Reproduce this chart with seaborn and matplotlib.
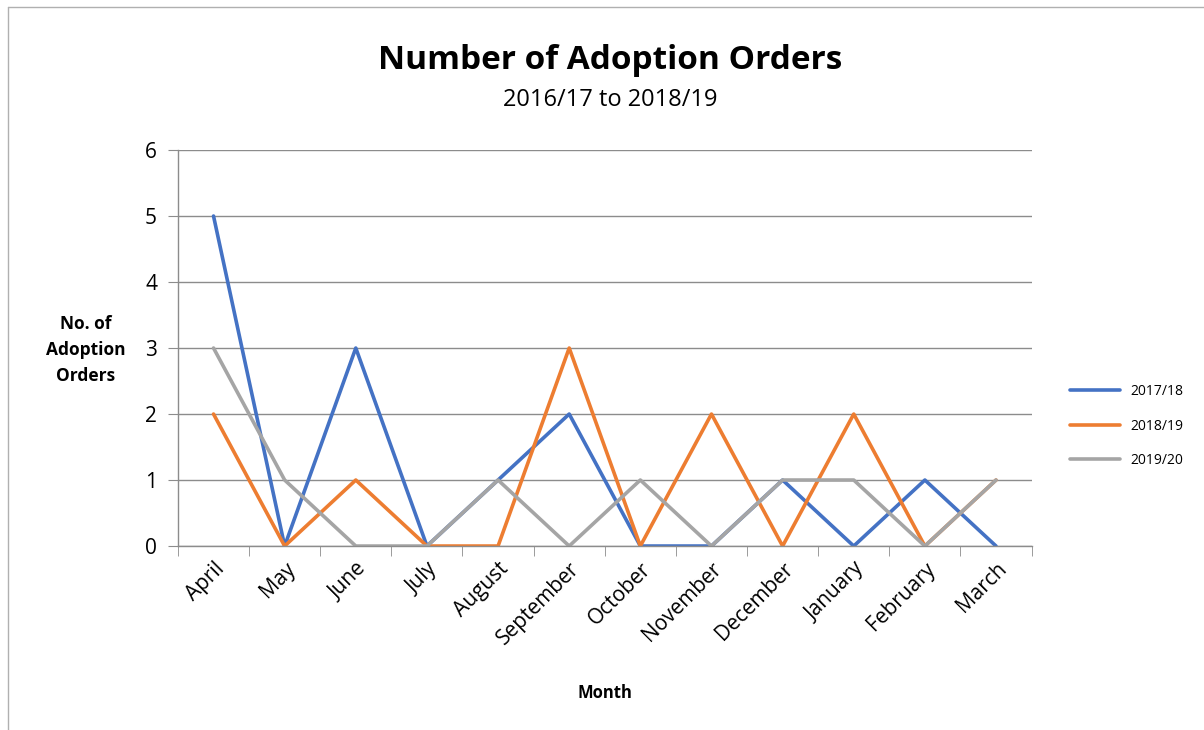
import numpy as np
import pandas as pd
import matplotlib.pyplot as plt
import seaborn as sns

months = ['April', 'May', 'June', 'July', 'August', 'September', 'October',
          'November', 'December', 'January', 'February', 'March']
orders_2017_18 = [5, 0, 3, 0, 1, 2, 0, 0, 1, 0, 1, 0]
orders_2018_19 = [2, 0, 1, 0, 0, 3, 0, 2, 0, 2, 0, 1]
orders_2019_20 = [3, 1, 0, 0, 1, 0, 1, 0, 1, 1, 0, 1]
seasons = ['2017/18', '2018/19', '2019/20']
colors = ['#4472C4', '#ED7D31', '#A5A5A5']

df = pd.DataFrame({
    'month_idx': list(range(len(months))) * 3,
    'orders': orders_2017_18 + orders_2018_19 + orders_2019_20,
    'season': [s for s in seasons for _ in months],
})

sns.set_style('white')
plt.rcParams['font.family'] = ['Open Sans', 'DejaVu Sans']
plt.rcParams['text.color'] = 'black'
plt.rcParams['axes.labelcolor'] = 'black'
plt.rcParams['xtick.color'] = 'black'
plt.rcParams['ytick.color'] = 'black'

fig = plt.figure(figsize=(12.04, 7.3), dpi=100)
ax = fig.add_axes([0.1478, 0.252, 0.709, 0.5425])

sns.lineplot(data=df, x='month_idx', y='orders', hue='season',
             palette=dict(zip(seasons, colors)), linewidth=2.6, ax=ax)

ax.set_xlim(-0.5, len(months) - 0.5)
ax.set_ylim(0, 6)
ax.set_yticks(range(7))
ax.tick_params(axis='y', left=True, labelsize=15, length=7, color='#8c8c8c', pad=8)
ax.set_xticks(range(len(months)))
ax.set_xticklabels(months, rotation=45, ha='right', rotation_mode='anchor', fontsize=15)
ax.tick_params(axis='x', which='major', bottom=True, length=0, pad=9)
ax.set_xticks(np.arange(-0.5, len(months)), minor=True)
ax.tick_params(axis='x', which='minor', bottom=True, length=7, color='#8c8c8c')

ax.grid(axis='y', color='#8c8c8c', linewidth=1.0)
ax.set_axisbelow(True)
for side in ['top', 'right']:
    ax.spines[side].set_visible(False)
for side in ['left', 'bottom']:
    ax.spines[side].set_color('#8c8c8c')
    ax.spines[side].set_linewidth(1.0)

ax.set_xlabel('Month', fontsize=12, fontweight='bold')
ax.xaxis.set_label_coords(0.5, -0.348)
ax.set_ylabel('No. of\nAdoption\nOrders', fontsize=12.5, fontweight='bold',
              rotation=0, ha='center', va='center', labelpad=0, linespacing=1.55)
ax.yaxis.set_label_coords(-0.108, 0.495)

fig.text(0.507, 0.917, 'Number of Adoption Orders', ha='center', va='center',
         fontsize=24, fontweight='bold')
fig.text(0.507, 0.863, '2016/17 to 2018/19', ha='center', va='center', fontsize=17)

leg = ax.legend(loc='center left', bbox_to_anchor=(1.03, 0.303), frameon=False,
                fontsize=10, labelspacing=1.4, handlelength=3.6)
for line in leg.get_lines():
    line.set_linewidth(2.6)

# chart border
fig.add_artist(plt.Line2D([0.007, 0.007], [0.0, 0.99], color='#b0b0b0', linewidth=1.0))
fig.add_artist(plt.Line2D([0.007, 1.0], [0.99, 0.99], color='#b0b0b0', linewidth=1.0))

fig.savefig('out.png', dpi=100)
